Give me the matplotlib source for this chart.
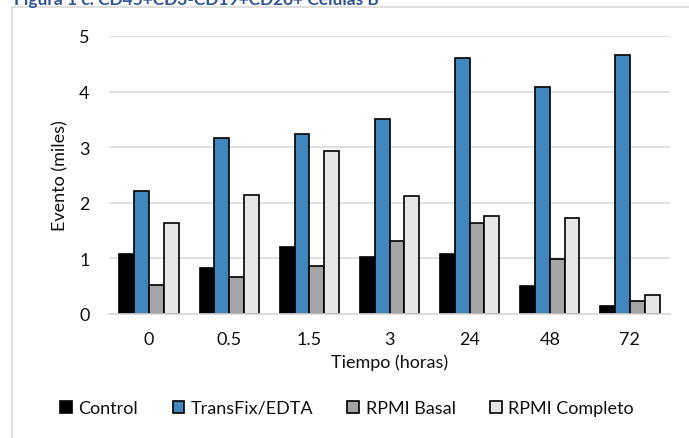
import matplotlib.pyplot as plt
from matplotlib.patches import Rectangle, Patch
import numpy as np

plt.rcParams['font.family'] = ['Lato', 'DejaVu Sans']

categorias = ['0', '0.5', '1.5', '3', '24', '48', '72']
series = ['Control', 'TransFix/EDTA', 'RPMI Basal', 'RPMI Completo']
control = [1.08, 0.82, 1.20, 1.03, 1.08, 0.50, 0.14]
transfix = [2.21, 3.17, 3.23, 3.50, 4.60, 4.09, 4.66]
rpmi_basal = [0.53, 0.67, 0.87, 1.32, 1.64, 0.99, 0.24]
rpmi_completo = [1.64, 2.14, 2.94, 2.12, 1.76, 1.73, 0.34]
colores = ['#000000', '#4087C0', '#A5A5A5', '#E6E6E6']

fig = plt.figure(figsize=(6.89, 4.39), dpi=100)
ax = fig.add_axes([109 / 689, 1 - 315 / 439, 561 / 689, 278 / 439])

# marco del grafico
fig.patches.append(Rectangle((12 / 689, -0.1), 1.2, 1.1 - 8 / 439,
                             transform=fig.transFigure, fill=False,
                             edgecolor='#D9D9D9', linewidth=1.2))
fig.text(14 / 689, 1 - 5 / 439, 'Figura 1 c. CD45+CD3-CD19+CD20+ Células B',
         color='#2F5597', fontsize=12.5, fontweight='bold', va='baseline')

x = np.arange(len(categorias))
w = 0.185
datos = [control, transfix, rpmi_basal, rpmi_completo]
for i, (vals, c) in enumerate(zip(datos, colores)):
    ax.bar(x + (i - 1.5) * w, vals, w, color=c, edgecolor='black',
           linewidth=1.2, label=series[i], zorder=3)

ax.set_xlim(-0.5, len(categorias) - 0.5)
ax.set_ylim(0, 5)
ax.set_yticks(range(6))
ax.set_xticks(x)
ax.set_xticklabels(categorias)
ax.grid(axis='y', color='#D9D9D9', linewidth=1.2, zorder=0)
for s in ['top', 'right', 'left']:
    ax.spines[s].set_visible(False)
ax.spines['bottom'].set_color('#D9D9D9')
ax.spines['bottom'].set_linewidth(1.2)
ax.spines['bottom'].set_zorder(4)
ax.tick_params(length=0, labelsize=13, colors='#111111')
ax.tick_params(axis='x', pad=12)
ax.tick_params(axis='y', pad=14)
ax.set_xlabel('Tiempo (horas)', fontsize=13, color='#111111', labelpad=5)
ax.set_ylabel('Evento (miles)', fontsize=13, color='#111111', labelpad=8)

handles = [Patch(facecolor=c, edgecolor='black', linewidth=1.2) for c in colores]
fig.legend(handles, series, loc='center', bbox_to_anchor=(347 / 689, 1 - 409 / 439),
           ncol=4, frameon=False, fontsize=13, handlelength=0.65,
           handleheight=0.65, handletextpad=0.35, columnspacing=1.9,
           labelcolor='#111111')

fig.savefig('out.png', dpi=100)
